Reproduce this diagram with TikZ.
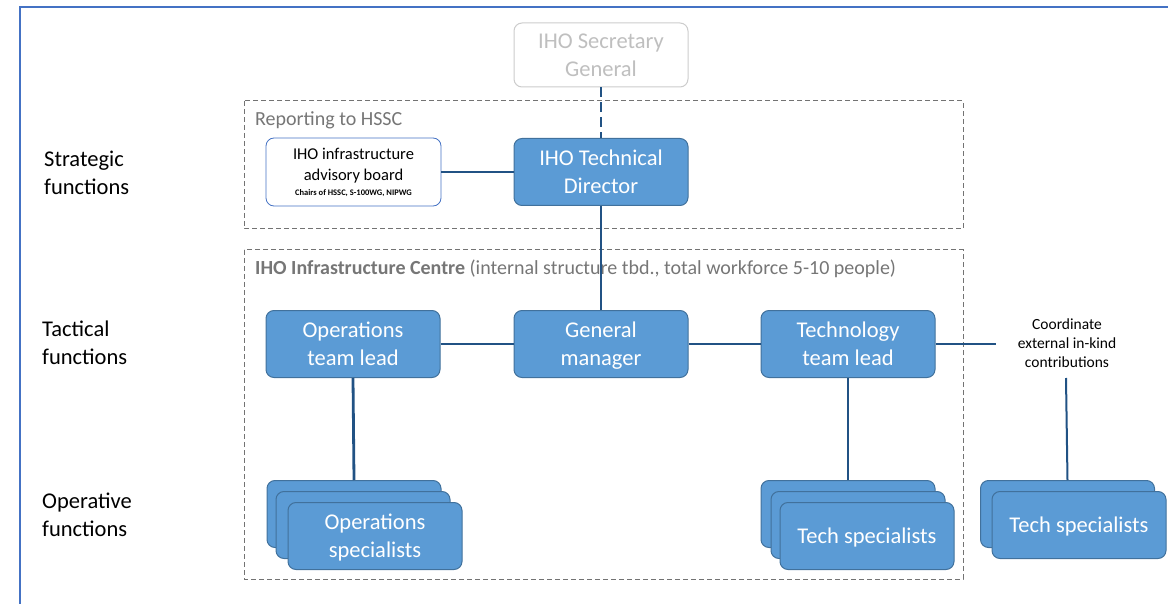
\documentclass[tikz,border=0pt]{standalone}
\usepackage{fontspec}
\setmainfont{Carlito}
\definecolor{boxfill}{RGB}{91,155,213}
\definecolor{boxline}{RGB}{65,113,156}
\definecolor{linkblue}{RGB}{33,82,132}
\definecolor{framec}{RGB}{68,114,196}
\definecolor{greytxt}{RGB}{118,118,118}
\tikzset{
  unit/.style={draw=boxline, fill=boxfill, rounded corners=8pt, line width=1pt,
    minimum width=174pt, minimum height=67pt, text=white, align=center,
    font=\fontsize{22.5}{28}\selectfont, inner sep=0pt, text depth=0pt},
  card/.style={unit, minimum height=67pt},
  ghost/.style={draw=black!20, fill=white, rounded corners=8pt, line width=1pt,
    minimum width=174pt, minimum height=64pt, text=black!25, align=center,
    font=\fontsize{22.5}{28}\selectfont, inner sep=0pt, text depth=0pt},
  board/.style={draw=framec, fill=white, rounded corners=8pt, line width=0.8pt,
    minimum width=175pt, minimum height=68pt, align=center, inner sep=0pt,
    font=\fontsize{16.5}{21}\selectfont, text depth=0pt},
  level/.style={anchor=north west, align=left, font=\fontsize{22.5}{27.5}\selectfont, inner sep=0pt},
  zone/.style={draw=black!55, dashed, line width=1pt, dash pattern=on 5pt off 3pt},
  ztitle/.style={anchor=north west, inner sep=0pt, text=greytxt, font=\fontsize{20}{24}\selectfont},
  link/.style={draw=linkblue, line width=2.8pt},
}
\begin{document}
\begin{tikzpicture}[x=1pt, y=-1pt]
  \useasboundingbox (0,0) rectangle (1168,604);
  % outer frame
  \begin{scope}
    \clip (0,0) rectangle (1168,604);
    \draw[framec, line width=2.5pt] (20,620) -- (20,7) -- (1180,7);
  \end{scope}
  % dashed zones
  \draw[zone] (244,101) rectangle (963,229);
  \draw[zone] (244,250) rectangle (963,579);
  \node[ztitle] (hssc) at (255,111) {Reporting to HSSC};
  \node[ztitle] (centre) at (255,260)
    {\textbf{IHO Infrastructure Centre} (internal structure tbd., total workforce 5-10 people)};
  % level labels
  \node[level] (strat) at (44,151) {Strategic\\functions};
  \node[level] (tact) at (42,321) {Tactical\\functions};
  \node[level] (oper) at (42,493) {Operative\\functions};
  % strategic
  \node[ghost] (sg) at (601,55) {IHO Secretary\\General};
  \node[unit] (td) at (601,172) {IHO Technical\\Director};
  \node[board] (ab) at (353.5,172) {IHO infrastructure\\advisory board\\[-6pt]
    {\fontsize{8.5}{10}\selectfont\bfseries Chairs of HSSC, S-100WG, NIPWG}};
  % tactical
  \node[unit] (ops) at (353,344) {Operations\\team lead};
  \node[unit] (gm) at (601,344) {General\\manager};
  \node[unit] (tech) at (848,344) {Technology\\team lead};
  \node[align=center, inner sep=0pt, font=\fontsize{15.5}{19}\selectfont] (ext) at (1067,343)
    {Coordinate\\external in-kind\\contributions};
  \coordinate (extin) at (996,344);
  \coordinate (extout) at (1066,378);
  % operative stacks
  \node[card] (opsA) at (354,514) {};
  \node[card] (opsB) at (363,525) {};
  \node[card] (opsC) at (375,536) {Operations\\specialists};
  \node[card] (techA) at (848,514) {};
  \node[card] (techB) at (858,525) {};
  \node[card] (techC) at (867,536) {Tech specialists};
  \node[card] (extA) at (1067.5,514) {};
  \node[card] (extB) at (1079,525) {Tech specialists};
  % connectors
  \draw[link, dash pattern=on 10pt off 5pt] (sg.south) -- (td.north);
  \draw[link] (ab.east) -- (td.west);
  \draw[link] (td.south) -- (gm.north);
  \draw[link] (ops.east) -- (gm.west);
  \draw[link] (gm.east) -- (tech.west);
  \draw[link] (tech.east) -- (extin);
  \draw[link] (ops.south) -- (opsA.north);
  \draw[link] (tech.south) -- (techA.north);
  \draw[link, line width=2pt] (extout) -- (extA.north);
\end{tikzpicture}
\end{document}
